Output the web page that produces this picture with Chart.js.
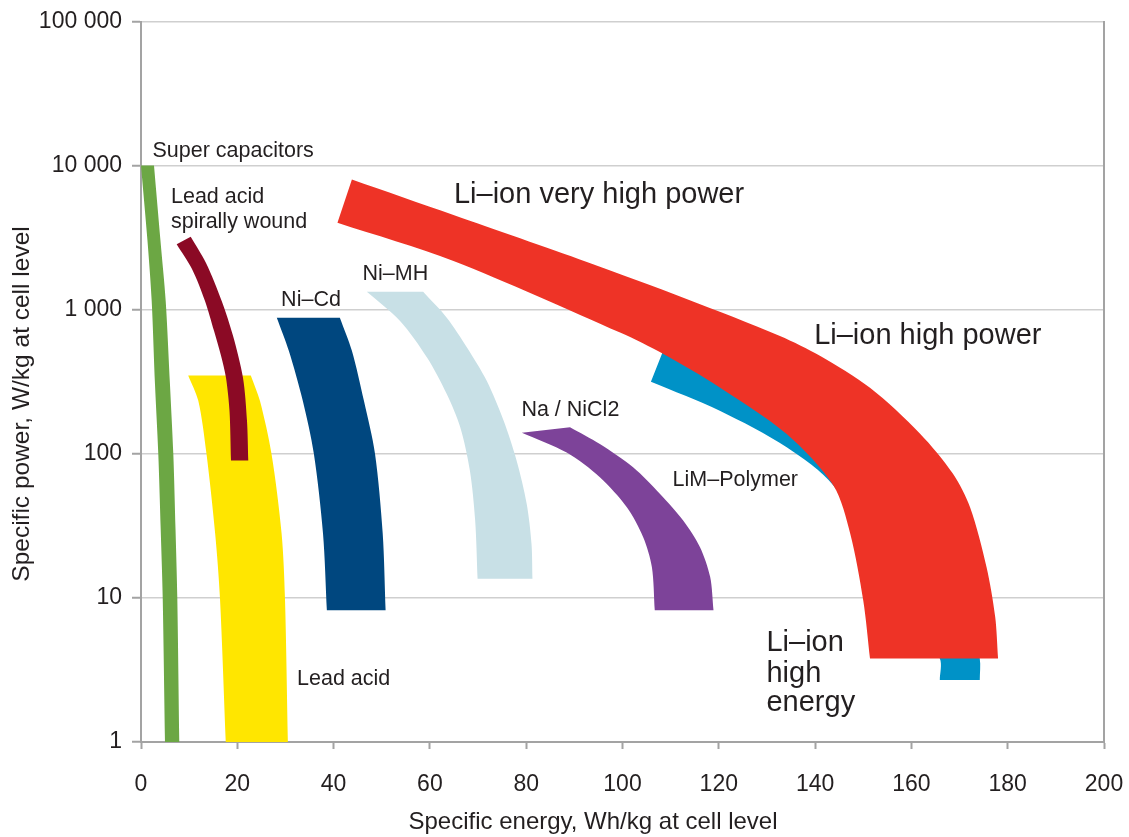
<!DOCTYPE html>
<html>
<head>
<meta charset="utf-8">
<script src="https://cdn.jsdelivr.net/npm/chart.js@4/dist/chart.umd.min.js"></script>
<style>
  html, body { margin: 0; padding: 0; background: #ffffff; }
  canvas { display: block; }
</style>
</head>
<body>
<canvas id="ragone" width="1129" height="837"></canvas>
<script>
// ---------- DATA (specific energy Wh/kg, specific power W/kg) ----------
const xTickValues = [0, 20, 40, 60, 80, 100, 120, 140, 160, 180, 200];
const yTickValues = [1, 10, 100, 1000, 10000, 100000];

// Each band: outer (high-energy) edge and inner (low-energy) edge, both from top end to bottom end
const superCapOuter = [[2.7, 10000], [4.05, 3000], [5.13, 1150], [6.02, 301], [6.71, 100], [7.17, 30], [7.54, 10], [7.95, 1]];
const superCapInner = [[0, 10000], [1.35, 3000], [2.22, 1150], [2.91, 301], [3.59, 100], [4.09, 30], [4.51, 10], [4.98, 1]];

const spiralOuter = [[10.32, 3208], [13.5, 2109], [16.76, 1150], [19.11, 659], [21.18, 337], [22.01, 170], [22.28, 90]];
const spiralInner = [[7.41, 2850], [10.59, 1918], [13.29, 1150], [15.16, 713], [16.62, 479], [17.65, 337], [18.38, 199], [18.69, 90]];

const leadAcidOuter = [[22.8, 350], [24.7, 233], [27.1, 100], [29.2, 28], [29.9, 10], [30.5, 1]];
const leadAcidInner = [[9.8, 350], [11.9, 233], [13.6, 100], [15.4, 28], [16.4, 10], [17.6, 1]];

const niCdOuter = [[41.3, 880], [43.8, 518], [46.3, 233], [48.6, 100], [50.2, 28], [50.8, 8.2]];
const niCdInner = [[28.2, 880], [30.7, 518], [33.6, 233], [35.9, 100], [37.8, 28], [38.6, 8.2]];

const niMHOuter = [[58.6, 1330], [63.5, 881], [67.7, 547], [71.8, 321], [75.3, 170], [78.0, 90], [80.1, 45], [81.1, 23.8], [81.3, 13.6]];
const niMHInner = [[46.9, 1330], [53.8, 836], [59.4, 466], [63.5, 260], [66.3, 153], [68.3, 76.5], [69.4, 34.5], [69.9, 13.6]];

const naNiCl2Outer = [[89.1, 153], [95.3, 117], [102.2, 80.7], [107.8, 52.7], [112.6, 34.5], [116.1, 22.5], [118.2, 14.0], [118.9, 8.2]];
const naNiCl2Inner = [[79.1, 140], [88.4, 102], [95.3, 68.8], [100.9, 42.6], [104.3, 26.4], [106.1, 16.4], [106.7, 8.2]];

const limPolymerOuter = [[108.3, 505], [128.6, 348], [147.2, 199], [161.8, 76.5], [170.1, 18.2], [174.2, 3.8], [174.2, 2.69]];
const limPolymerInner = [[105.9, 316], [120.2, 199], [134.1, 111], [143.8, 60.2], [157.6, 11.3], [165.9, 3.8], [165.9, 2.69]];

const liIonOuter = [[43.8, 8000], [64.9, 4535], [92.6, 2143], [113.3, 1188], [132.7, 658], [141.0, 479], [151.4, 287], [161.8, 138],
                    [168.6, 73], [172.2, 42.4], [175.6, 16.4], [177.4, 7.4], [178.0, 3.8]];
const liIonInner = [[40.8, 4010], [64.9, 2180], [99.5, 694], [108.5, 492], [120.2, 289], [134.1, 137], [143.8, 60.2],
                    [147.3, 27.9], [150.0, 9.6], [151.4, 3.8]];

// ---------- STYLE / LAYOUT ----------
const FONT = '"Liberation Sans", Arial, Helvetica, sans-serif';
const TEXT = '#231F20';
const AXIS = '#A3A3A3';
const GRID = '#CFCFCF';

// closed outline: outer edge down, flat bottom cap, inner edge up, flat top cap (closing segment)
function outline(outer, inner) {
  const o = outer[outer.length - 1], i = inner[inner.length - 1];
  return [...outer, o, i, ...inner.slice().reverse()];
}

const bands = [
  { name: 'Li-ion', outer: liIonOuter, inner: liIonInner, color: '#EE3326' },
  { name: 'Lead acid spirally wound', outer: spiralOuter, inner: spiralInner, color: '#8B0A25' },
  { name: 'LiM-Polymer', outer: limPolymerOuter, inner: limPolymerInner, color: '#0092C7' },
  { name: 'Lead acid', outer: leadAcidOuter, inner: leadAcidInner, color: '#FFE600' },
  { name: 'Super capacitors', outer: superCapOuter, inner: superCapInner, color: '#6CA744' },
  { name: 'Ni-Cd', outer: niCdOuter, inner: niCdInner, color: '#00477F' },
  { name: 'Ni-MH', outer: niMHOuter, inner: niMHInner, color: '#C8E0E6' },
  { name: 'Na / NiCl2', outer: naNiCl2Outer, inner: naNiCl2Inner, color: '#7D4399' }
];

// Band labels placed in data coordinates (left edge, baseline)
const bandLabels = [
  { text: 'Super capacitors', energy: 2.39, power: 11430, size: 21.5 },
  { text: 'Lead acid', energy: 6.23, power: 5490, size: 21.5 },
  { text: 'spirally wound', energy: 6.23, power: 3684, size: 21.5 },
  { text: 'Ni–Cd', energy: 29.1, power: 1062, size: 21.5 },
  { text: 'Ni–MH', energy: 46.0, power: 1608, size: 21.5 },
  { text: 'Na / NiCl2', energy: 79.0, power: 184, size: 21.5 },
  { text: 'LiM–Polymer', energy: 110.4, power: 60.2, size: 21.5 },
  { text: 'Lead acid', energy: 32.4, power: 2.48, size: 21.5 },
  { text: 'Li–ion very high power', energy: 65.0, power: 5520, size: 29 },
  { text: 'Li–ion high power', energy: 139.8, power: 582, size: 29 },
  { text: 'Li–ion', energy: 129.9, power: 4.29, size: 29 },
  { text: 'high', energy: 129.9, power: 2.62, size: 29 },
  { text: 'energy', energy: 129.9, power: 1.65, size: 29 }
];

const xTitle = 'Specific energy, Wh/kg at cell level';
const yTitle = 'Specific power, W/kg at cell level';

const textPlugin = {
  id: 'ragoneText',
  afterDatasetsDraw(chart) {
    const { ctx } = chart;
    const xs = chart.scales.x, ys = chart.scales.y;
    ctx.save();
    ctx.fillStyle = TEXT;
    ctx.textAlign = 'left';
    ctx.textBaseline = 'alphabetic';
    for (const l of bandLabels) {
      ctx.font = l.size + 'px ' + FONT;
      ctx.fillText(l.text, xs.getPixelForValue(l.energy), ys.getPixelForValue(l.power));
    }
    ctx.textAlign = 'center';
    ctx.textBaseline = 'middle';
    ctx.font = '24px ' + FONT;
    ctx.fillText(xTitle, 593, 822);
    ctx.font = '24.5px ' + FONT;
    ctx.translate(22, 404);
    ctx.rotate(-Math.PI / 2);
    ctx.fillText(yTitle, 0, 0);
    ctx.restore();
  }
};

const fmt = v => String(v).replace(/\B(?=(\d{3})+(?!\d))/g, ' ');

new Chart(document.getElementById('ragone'), {
  type: 'scatter',
  data: {
    datasets: bands.map(b => ({
      label: b.name,
      data: outline(b.outer, b.inner).map(p => ({ x: p[0], y: p[1] })),
      showLine: true,
      fill: 'shape',
      backgroundColor: b.color,
      borderColor: 'rgba(0,0,0,0)',
      borderWidth: 0,
      pointRadius: 0,
      pointHoverRadius: 0,
      pointHitRadius: 0,
      tension: 0.3
    }))
  },
  options: {
    responsive: false,
    devicePixelRatio: 1,
    animation: false,
    events: [],
    layout: { padding: { top: 20, left: 0, right: 0, bottom: 0 } },
    plugins: { legend: { display: false }, tooltip: { enabled: false }, title: { display: false } },
    scales: {
      x: {
        type: 'linear', position: 'bottom', min: 0, max: 200,
        afterBuildTicks: s => { s.ticks = xTickValues.map(v => ({ value: v })); },
        afterFit: s => { s.height = 95; },
        ticks: { color: TEXT, font: { family: FONT, size: 23, lineHeight: 2.8 }, padding: 3, maxRotation: 0, autoSkip: false },
        grid: { drawOnChartArea: false, drawTicks: true, tickLength: 7, tickColor: AXIS, tickWidth: 2, color: AXIS },
        border: { color: AXIS, width: 2 }
      },
      y: {
        type: 'logarithmic', position: 'left', min: 1, max: 100000,
        afterBuildTicks: s => { s.ticks = yTickValues.map(v => ({ value: v })); },
        afterFit: s => { s.width = 141; },
        ticks: { color: TEXT, font: { family: FONT, size: 23, lineHeight: 1 }, padding: 10, autoSkip: false, callback: v => fmt(v) },
        grid: { color: GRID, lineWidth: 1.5, drawTicks: true, tickLength: 9, tickColor: AXIS, tickWidth: 2 },
        border: { color: AXIS, width: 2 }
      },
      yRight: {
        type: 'linear', axis: 'y', position: 'right', min: 0, max: 1,
        afterFit: s => { s.width = 25; },
        ticks: { display: false },
        grid: { display: false },
        border: { display: true, color: AXIS, width: 2 }
      }
    }
  },
  plugins: [textPlugin]
});
</script>
</body>
</html>
